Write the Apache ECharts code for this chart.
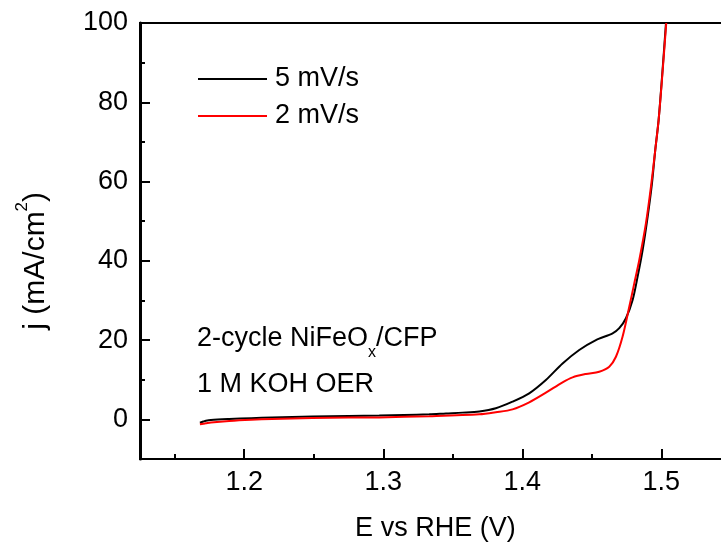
<!DOCTYPE html>
<html>
<head>
<meta charset="utf-8">
<script src="https://cdn.jsdelivr.net/npm/echarts@6/dist/echarts.min.js"></script>
<style>
html, body { margin: 0; padding: 0; background: #ffffff; overflow: hidden; }
#chart { width: 760px; height: 549px; }
</style>
</head>
<body>
<div id="chart"></div>
<script>
// ---- data ----
const seriesNames = ['5 mV/s', '2 mV/s'];

const potential5 = [1.1681, 1.1705, 1.1724, 1.176, 1.1892, 1.205, 1.22, 1.2491, 1.275, 1.2971, 1.315, 1.3331, 1.3451, 1.357, 1.3691, 1.381, 1.393, 1.405, 1.417, 1.429, 1.441, 1.453, 1.465, 1.4698, 1.4746, 1.4794, 1.483, 1.4866, 1.4902, 1.4933, 1.4957, 1.4981, 1.5007, 1.5034];
const current5   = [-0.84, -0.55, -0.34, -0.15, 0.09, 0.3, 0.45, 0.7, 0.82, 0.95, 1.1, 1.28, 1.5, 1.7, 2.0, 2.8, 4.46, 6.57, 9.93, 14.1, 17.5, 20.0, 21.7, 23.0, 25.5, 30.1, 36.0, 42.7, 51.1, 59.5, 68, 75.5, 87, 100];

const potential2 = [1.1681, 1.1705, 1.1724, 1.176, 1.1892, 1.205, 1.22, 1.2491, 1.275, 1.2971, 1.333, 1.3691, 1.381, 1.393, 1.405, 1.417, 1.429, 1.4362, 1.4458, 1.4554, 1.4626, 1.4674, 1.4722, 1.477, 1.4806, 1.4842, 1.489, 1.4926, 1.4957, 1.4981, 1.5008, 1.5036];
const current2   = [-1.25, -1.1, -1.0, -0.8, -0.41, -0.1, 0.1, 0.35, 0.45, 0.5, 0.8, 1.27, 1.8, 2.53, 4.3, 6.73, 9.34, 10.6, 11.45, 12.03, 13.3, 15.8, 20.9, 28.4, 34.3, 40.2, 49.5, 58.7, 68, 75.5, 87, 100];

const xTickLabels = ['1.2', '1.3', '1.4', '1.5'];
const yTickLabels = ['0', '20', '40', '60', '80', '100'];
const xTitle = 'E vs RHE (V)';
const yTitleRich = '{m|j (mA/cm}{p|2}{m|)}';
const noteLine1 = ['2-cycle NiFeO', 'x', '/CFP'];
const noteLine2 = '1 M KOH OER';

// ---- layout ----
const FONT = "'Liberation Sans', Arial, sans-serif";
const FS = 27;
const X_MIN = 1.125, X_MAX = 1.55, Y_MIN = -10, Y_MAX = 100;
const PLOT_LEFT = 140, PLOT_TOP = 23, PLOT_BOTTOM = 459, PX_PER_X = 1390;
const plotW = (X_MAX - X_MIN) * PX_PER_X;
const plotH = PLOT_BOTTOM - PLOT_TOP;
const pxPerY = plotH / (Y_MAX - Y_MIN);
const xPos = v => PLOT_LEFT + (v - X_MIN) * PX_PER_X;
const yPos = v => PLOT_BOTTOM - (v - Y_MIN) * pxPerY;

const hiddenX = gi => ({ type: 'value', gridIndex: gi, min: X_MIN, max: X_MAX, show: false, axisLine: { onZero: false } });
const hiddenY = gi => ({ type: 'value', gridIndex: gi, min: Y_MIN, max: Y_MAX, show: false, axisLine: { onZero: false } });
const noLine = { show: false, onZero: false };
const tickStyle = { color: '#000', width: 2 };

const chart = echarts.init(document.getElementById('chart'));
chart.setOption({
  animation: false,
  backgroundColor: '#ffffff',
  textStyle: { fontFamily: FONT, color: '#000' },
  grid: [
    { left: PLOT_LEFT, top: PLOT_TOP, width: plotW, height: plotH, show: true, borderColor: '#000', borderWidth: 2, backgroundColor: 'transparent' },
    { left: xPos(1.2), top: PLOT_TOP, width: xPos(1.55) - xPos(1.2), height: plotH },
    { left: xPos(1.15), top: PLOT_TOP, width: xPos(1.55) - xPos(1.15), height: plotH },
    { left: PLOT_LEFT, top: yPos(100), width: plotW, height: yPos(0) - yPos(100) },
    { left: PLOT_LEFT, top: yPos(90), width: plotW, height: yPos(-10) - yPos(90) }
  ],
  xAxis: [
    { type: 'value', gridIndex: 0, min: X_MIN, max: X_MAX,
      axisLine: noLine, axisTick: { show: false }, axisLabel: { show: false }, splitLine: { show: false },
      name: xTitle, nameLocation: 'middle', nameGap: 56.5,
      nameTextStyle: { fontSize: FS, lineHeight: 27, color: '#000', fontFamily: FONT } },
    { type: 'value', gridIndex: 1, min: 1.2, max: 1.55, interval: 0.1,
      axisLine: noLine, splitLine: { show: false },
      axisTick: { show: true, inside: true, length: 10, lineStyle: tickStyle },
      axisLabel: { show: true, margin: 10.5, fontSize: FS, lineHeight: 27, color: '#000', fontFamily: FONT, showMaxLabel: false,
        formatter: v => { const s = v.toFixed(1); return (xTickLabels.includes(s) && Math.abs(v - parseFloat(s)) < 1e-6) ? s : ''; } } },
    { type: 'value', gridIndex: 2, min: 1.15, max: 1.55, interval: 0.1,
      axisLine: noLine, splitLine: { show: false }, axisLabel: { show: false },
      axisTick: { show: true, inside: true, length: 5, lineStyle: tickStyle } },
    hiddenX(3),
    hiddenX(4)
  ],
  yAxis: [
    { type: 'value', gridIndex: 0, min: Y_MIN, max: Y_MAX,
      axisLine: { show: true, onZero: false, lineStyle: { color: '#000', width: 3 } },
      axisTick: { show: false }, axisLabel: { show: false }, splitLine: { show: false } },
    hiddenY(1),
    hiddenY(2),
    { type: 'value', gridIndex: 3, min: 0, max: 100, interval: 20,
      axisLine: noLine, splitLine: { show: false },
      axisTick: { show: true, inside: true, length: 10, lineStyle: tickStyle },
      axisLabel: { show: true, margin: 12, fontSize: FS, color: '#000', fontFamily: FONT,
        formatter: v => yTickLabels.includes(String(v)) ? String(v) : '' } },
    { type: 'value', gridIndex: 4, min: -10, max: 90, interval: 20,
      axisLine: noLine, splitLine: { show: false }, axisLabel: { show: false },
      axisTick: { show: true, inside: true, length: 5, lineStyle: tickStyle },
      name: yTitleRich, nameLocation: 'middle', nameGap: 84,
      nameTextStyle: {
        fontFamily: FONT, color: '#000',
        rich: {
          m: { fontSize: 30, height: 40, lineHeight: 40, verticalAlign: 'top', color: '#000', fontFamily: FONT },
          p: { fontSize: 17, height: 12, lineHeight: 12, verticalAlign: 'top', color: '#000', fontFamily: FONT }
        }
      } }
  ],
  legend: {
    data: seriesNames, orient: 'vertical', left: 198, top: 65.5, padding: 0,
    itemWidth: 69, itemHeight: 2, itemGap: 10, icon: 'rect', selectedMode: false,
    textStyle: { fontSize: FS, lineHeight: 27, color: '#000', fontFamily: FONT, padding: [0, 0, 0, 3] }
  },
  graphic: [
    { type: 'text', left: 197, top: 325.3, silent: true,
      style: {
        text: '{m|' + noteLine1[0] + '}{s|' + noteLine1[1] + '}{m|' + noteLine1[2] + '}',
        fill: '#000', fontFamily: FONT, fontSize: FS,
        rich: {
          m: { fontSize: FS, height: 27, lineHeight: 27, verticalAlign: 'top', fill: '#000', fontFamily: FONT },
          s: { fontSize: 16, height: 55, lineHeight: 55, verticalAlign: 'top', fill: '#000', fontFamily: FONT }
        }
      } },
    { type: 'text', left: 197, top: 371, silent: true,
      style: { text: noteLine2, fill: '#000', fontFamily: FONT, fontSize: FS, lineHeight: 27 } }
  ],
  series: [
    { name: seriesNames[0], type: 'line', xAxisIndex: 0, yAxisIndex: 0,
      data: potential5.map((e, i) => [e, current5[i]]),
      showSymbol: false, symbol: 'none', smooth: 0.3,
      lineStyle: { color: '#000000', width: 2 }, itemStyle: { color: '#000000' } },
    { name: seriesNames[1], type: 'line', xAxisIndex: 0, yAxisIndex: 0,
      data: potential2.map((e, i) => [e, current2[i]]),
      showSymbol: false, symbol: 'none', smooth: 0.3,
      lineStyle: { color: '#ff0000', width: 2 }, itemStyle: { color: '#ff0000' } }
  ]
});
</script>
</body>
</html>
